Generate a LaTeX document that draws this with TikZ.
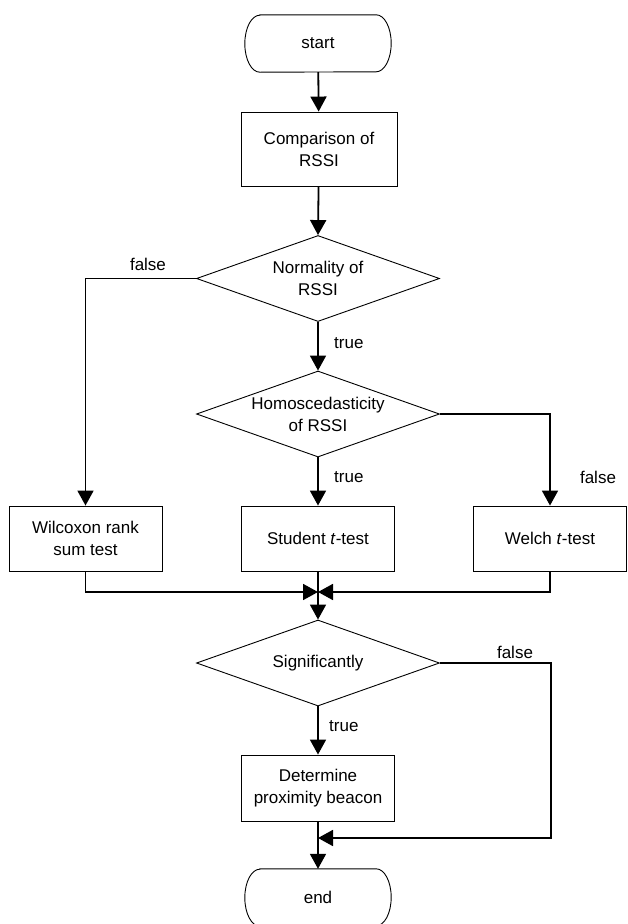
\documentclass[tikz,border=0pt]{standalone}
\usepackage{fontspec}
\setmainfont{Liberation Sans}
\usetikzlibrary{arrows.meta,shapes.geometric}
\begin{document}
\begin{tikzpicture}[x=1pt,y=-1pt,
  font=\fontsize{17}{22}\selectfont,
  border/.style={draw=black,line width=0.9pt},
  procbox/.style={border,fill=white,align=center,inner sep=0pt,minimum height=65pt,minimum width=153pt},
  termtext/.style={inner sep=0pt,minimum width=146pt,minimum height=57pt},
  decision/.style={diamond,border,fill=white,inner sep=0pt,minimum width=243pt,minimum height=86pt},
  dlabel/.style={align=center,inner sep=0pt},
  edgelabel/.style={inner sep=0pt,anchor=west},
  conn/.style={line width=1.8pt,-{Triangle[length=15pt,width=16pt]}},
  plain/.style={line width=1.8pt}]
\useasboundingbox (0,0) rectangle (627,924);

% terminals
\node[termtext] (start) at (318,43.5) {start};
\draw[border] ([xshift=15pt]start.north west) -- ([xshift=-15pt]start.north east)
  arc[start angle=90,end angle=-90,x radius=15pt,y radius=28.5pt]
  -- ([xshift=15pt]start.south west)
  arc[start angle=270,end angle=90,x radius=15pt,y radius=28.5pt] -- cycle;

\node[termtext] (end) at (318,897.5) {end};
\draw[border] ([xshift=15pt]end.north west) -- ([xshift=-15pt]end.north east)
  arc[start angle=90,end angle=-90,x radius=15pt,y radius=28.5pt]
  -- ([xshift=15pt]end.south west)
  arc[start angle=270,end angle=90,x radius=15pt,y radius=28.5pt] -- cycle;

% process boxes
\node[procbox,minimum width=156pt,minimum height=74pt] (comp) at (319,149) {Comparison of\\RSSI};
\node[procbox] (wil) at (85.5,538.5) {Wilcoxon rank\\sum test};
\node[procbox] (stu) at (318,538.5) {Student \textit{t}-test};
\node[procbox] (wel) at (550,538.5) {Welch \textit{t}-test};
\node[procbox,minimum height=66pt] (det) at (318,788) {Determine\\proximity beacon};

% decisions
\node[decision,label={[dlabel]center:Normality of\\RSSI}] (norm) at (318,278.5) {};
\node[decision,label={[dlabel]center:Homoscedasticity\\of RSSI}] (homo) at (318,414) {};
\node[decision,label={[dlabel]center:Significantly}] (sig) at (318,663) {};

% helper coordinates
\coordinate (lc) at (85.5,278.5);
\coordinate (rc) at (550,414);
\coordinate (merge) at (318,592);
\coordinate (fr) at (551,838);

% connectors
\draw[conn] (start) -- (comp);
\draw[conn] (comp) -- (norm.north);
\draw[conn] (norm.west) -- (lc) -- (wil.north);
\draw[conn] (norm.south) -- (homo.north);
\draw[conn] (homo.south) -- (stu.north);
\draw[conn] (homo.east) -- (rc) -- (wel.north);
\draw[conn] (wil.south) |- (merge);
\draw[conn] (wel.south) |- (merge);
\draw[conn] (stu.south) -- (sig.north);
\draw[conn] (sig.south) -- (det.north);
\draw[conn] (det.south) -- (end.north);
\draw[conn] (sig.east) -- (sig.east -| fr) -- (fr) -- (fr -| det.south);

% edge labels
\node[inner sep=0pt] (lf1) at (148,264) {false};
\node[edgelabel] (lt1) at (334,343) {true};
\node[edgelabel] (lt2) at (334,477) {true};
\node[inner sep=0pt] (lf2) at (598,477) {false};
\node[inner sep=0pt] (lf3) at (515,652) {false};
\node[edgelabel] (lt3) at (329,726) {true};
\end{tikzpicture}
\end{document}
